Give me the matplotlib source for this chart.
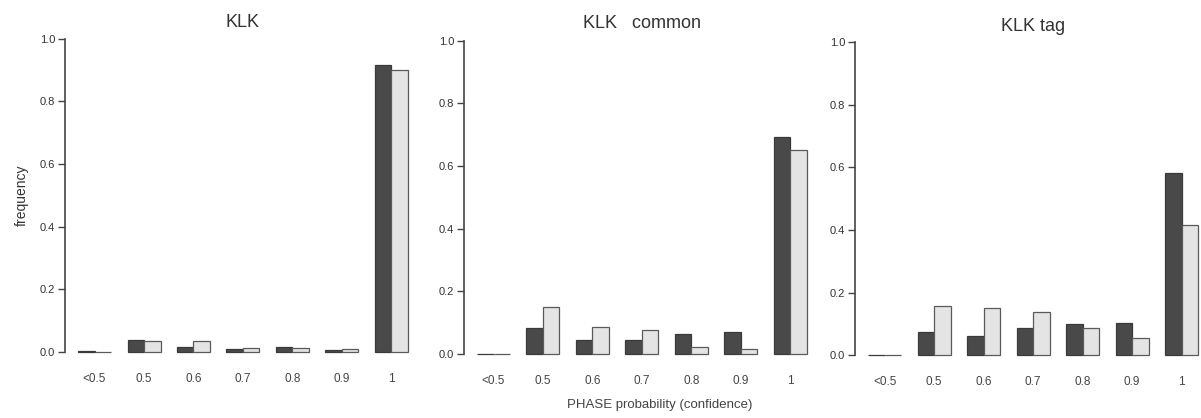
import matplotlib
matplotlib.use('Agg')
from matplotlib import pyplot as plt
import numpy as np

plt.rcParams['font.family'] = ['Liberation Sans', 'DejaVu Sans']

categories = ['<0.5', '0.5', '0.6', '0.7', '0.8', '0.9', '1']
titles = ['KLK', 'KLK   common', 'KLK tag']

# dark bars / light bars, one pair per panel
klk_dark = [0.002, 0.039, 0.016, 0.009, 0.016, 0.007, 0.916]
klk_light = [0.0, 0.036, 0.035, 0.012, 0.014, 0.009, 0.902]
common_dark = [0.001, 0.084, 0.046, 0.046, 0.063, 0.070, 0.694]
common_light = [0.0, 0.151, 0.087, 0.077, 0.023, 0.015, 0.651]
tag_dark = [0.001, 0.074, 0.061, 0.088, 0.100, 0.104, 0.582]
tag_light = [0.0, 0.159, 0.150, 0.137, 0.086, 0.056, 0.415]

panels = [(klk_dark, klk_light), (common_dark, common_light), (tag_dark, tag_light)]

fig = plt.figure(figsize=(12.01, 4.18), dpi=100)
rects = [[0.054, 0.128, 0.2966, 0.809],
         [0.3862, 0.1232, 0.2966, 0.809],
         [0.7119, 0.120, 0.2966, 0.809]]
title_y = [0.9985, 1.0, 0.9947]

grp = np.arange(len(categories)) * 3
for k, (dark, light) in enumerate(panels):
    ax = fig.add_axes(rects[k])
    ax.bar(grp + 1, dark, width=1, align='edge', color='#494949', edgecolor='#3a3a3a', linewidth=0.9)
    ax.bar(grp + 2, light, width=1, align='edge', color='#e4e4e4', edgecolor='#5a5a5a', linewidth=0.9)
    ax.set_xlim(0.2, 21.8)
    ax.set_ylim(-0.04, 1.04)
    for s in ('top', 'right', 'bottom'):
        ax.spines[s].set_visible(False)
    ax.spines['left'].set_bounds(0, 1)
    ax.spines['left'].set_color('#444444')
    ax.spines['left'].set_linewidth(1.2)
    ax.set_yticks([0, 0.2, 0.4, 0.6, 0.8, 1.0])
    ax.set_yticklabels(['0.0', '0.2', '0.4', '0.6', '0.8', '1.0'])
    ax.tick_params(axis='y', length=5, width=1, color='#444444', labelsize=8, labelcolor='#333333', pad=2)
    ax.set_xticks(grp + 2)
    ax.set_xticklabels(categories)
    ax.tick_params(axis='x', length=0, labelsize=8.5, labelcolor='#444444', pad=6)
    ax.set_title(titles[k], fontsize=13, color='#333333', y=title_y[k], pad=0)
    if k == 0:
        ax.set_ylabel('frequency', fontsize=10, color='#333333', labelpad=8)

fig.text(660 / 1201, 1 - 405 / 418, 'PHASE probability (confidence)', ha='center', va='center',
         fontsize=9.5, color='#444444')

fig.savefig('out.png', dpi=100)
